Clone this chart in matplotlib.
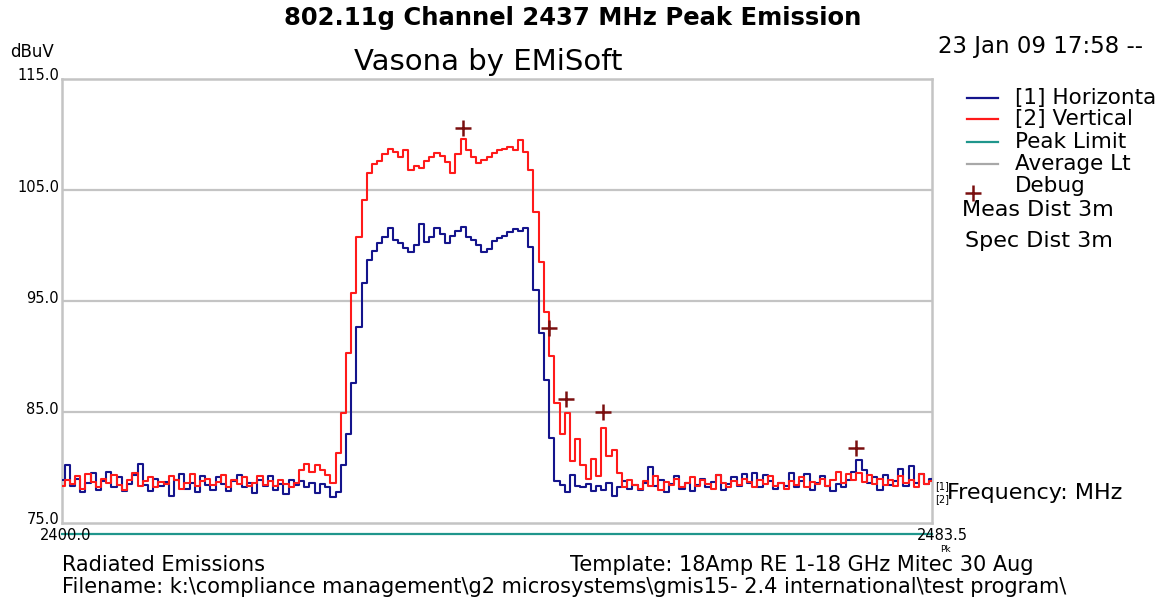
import matplotlib
matplotlib.use("Agg")
import matplotlib.pyplot as plt
import numpy as np

# sweep 2400.0 - 2483.5 MHz, 0.5 MHz per point
f_start = 2400.0
f_stop = 2483.5

# [2] Vertical trace, dBuV
vert = [78.3, 78.9, 78.5, 79.2, 78.1, 79.4, 78.7, 78.2, 79.0, 78.6,
        79.3, 78.4, 78.0, 78.9, 79.5, 78.3, 78.8, 79.1, 78.2, 78.7,
        78.5, 79.2, 78.9, 78.1, 78.6, 79.4, 78.3, 78.8, 79.0, 78.4,
        78.7, 79.3, 78.2, 78.9, 78.5, 79.1, 78.3, 78.6, 79.2, 78.4,
        78.8, 78.3, 78.9, 78.5, 78.2, 78.6, 79.8, 80.3, 79.6, 80.2,
        79.8, 79.3, 78.6, 81.3, 84.9, 90.3, 95.7, 100.8, 104.1, 106.5,
        107.3, 107.6, 108.2, 108.7, 108.4, 108.0, 108.6, 106.8, 107.2, 107.0,
        107.6, 108.0, 108.3, 108.1, 107.5, 106.5, 108.2, 109.6, 108.6, 108.0,
        107.4, 107.7, 108.0, 108.3, 108.6, 108.7, 108.9, 108.6, 109.5, 108.4,
        106.8, 103.0, 98.5, 94.0, 90.0, 85.8, 83.0, 84.9, 80.6, 82.6,
        80.2, 79.0, 80.8, 79.2, 83.6, 81.0, 81.6, 79.5, 78.2, 78.9,
        78.4, 78.1, 78.8, 78.3, 79.2, 78.0, 78.7, 78.4, 79.0, 78.2,
        78.6, 79.1, 78.3, 78.9, 78.5, 78.1, 79.3, 78.6, 78.2, 78.8,
        78.4, 79.0, 78.7, 78.2, 78.9, 78.5, 79.2, 78.3, 78.6, 78.1,
        78.8, 78.4, 79.1, 78.2, 78.7, 78.5, 79.0, 78.3, 78.9, 79.6,
        78.6, 79.4, 78.9, 79.5, 78.7, 79.3, 78.5, 79.0, 78.4, 78.9,
        78.3, 79.2, 78.6, 78.9, 78.2, 79.4, 78.5, 78.8]

# [1] Horizontal trace, dBuV
horiz = [78.9, 80.2, 78.3, 79.0, 77.8, 78.6, 79.5, 78.0, 78.8, 79.6,
         78.2, 79.1, 77.9, 78.5, 79.3, 80.3, 78.4, 77.9, 79.0, 78.3,
         78.7, 77.4, 78.9, 79.4, 78.1, 78.6, 77.8, 79.2, 78.4, 78.0,
         79.1, 78.5, 77.9, 78.8, 79.3, 78.2, 78.6, 77.7, 78.9, 78.3,
         79.2, 78.0, 78.5, 77.6, 78.9, 78.4, 78.8, 78.2, 78.6, 77.7,
         78.5, 78.2, 77.3, 77.8, 80.2, 83.0, 87.6, 92.7, 96.6, 98.7,
         99.5, 100.2, 100.8, 101.6, 100.5, 100.2, 99.8, 99.4, 100.0, 101.9,
         100.3, 100.8, 101.6, 101.0, 100.2, 100.9, 101.3, 101.7, 100.8, 100.5,
         100.0, 99.4, 99.7, 100.4, 100.7, 100.9, 101.2, 101.5, 101.3, 101.6,
         99.9, 96.0, 92.1, 87.9, 82.7, 78.8, 78.4, 77.8, 79.3, 78.3,
         78.2, 78.5, 77.9, 78.3, 78.0, 78.6, 77.4, 78.2, 78.8, 78.1,
         78.4, 78.0, 78.6, 80.0, 78.3, 78.9, 77.8, 78.5, 79.2, 78.1,
         78.6, 77.9, 78.4, 79.0, 78.2, 78.7, 79.3, 78.0, 78.5, 79.1,
         78.3, 79.4, 78.6, 79.5, 78.2, 79.3, 78.8, 78.1, 78.6, 78.3,
         79.5, 78.2, 78.8, 79.4, 78.0, 78.6, 79.2, 78.3, 77.9, 78.5,
         78.2, 78.9, 79.6, 80.7, 79.8, 78.6, 79.1, 78.0, 79.3, 78.4,
         78.8, 79.9, 78.3, 80.1, 78.6, 79.4, 78.5, 79.0]

peak_limit = 74.0
debug_freq = [2438.5, 2446.7, 2448.4, 2451.9, 2476.2]
debug_level = [110.6, 92.6, 86.2, 85.0, 81.8]

y_ticks = [115.0, 105.0, 95.0, 85.0, 75.0]

legend_names = ["[1] Horizonta", "[2] Vertical", "Peak Limit", "Average Lt", "Debug"]

BLUE = "#14148c"
RED = "#ff1a1a"
TEAL = "#1f968c"
GREY = "#a8a8a8"
DEBUG = "#7a0f0f"

W, H = 1159, 606
fig = plt.figure(figsize=(W / 100, H / 100), dpi=100)


def px(x, y):
    return x / W, 1 - y / H


def label(x, y, s, size=12.5, ha="left", va="center", **kw):
    kw.setdefault("family", "DejaVu Sans")
    fig.text(*px(x, y), s, fontsize=size, ha=ha, va=va, **kw)


ax = fig.add_axes([62 / W, 1 - 523 / H, 870 / W, 444 / H])
freq = np.linspace(f_start, f_stop, len(vert))

ax.plot(freq, horiz, color=BLUE, lw=1.5, drawstyle="steps-mid", zorder=3)
ax.plot(freq, vert, color=RED, lw=1.5, drawstyle="steps-mid", zorder=4)
ax.plot([f_start, f_stop], [peak_limit, peak_limit], color=TEAL, lw=1.6,
        clip_on=False, zorder=5)
ax.plot(debug_freq, debug_level, ls="none", marker="+", ms=11, mew=1.8,
        color=DEBUG, clip_on=False, zorder=6)

ax.set_xlim(f_start, f_stop)
ax.set_ylim(75, 115)
ax.set_xticks([])
ax.set_yticks([])
for yv in y_ticks[1:-1]:
    ax.axhline(yv, color="#c4c4c4", lw=1.6, zorder=1)
for sp in ax.spines.values():
    sp.set_color("#c4c4c4")
    sp.set_linewidth(1.8)

# y labels sit just left of the frame
for yv in y_ticks:
    ypix = 523 - (yv - 75) * 444 / 40
    label(59, ypix - 3, "%.1f" % yv, size=10.5, ha="right")
label(40, 536, "2400.0", size=10.5)
label(917, 536, "2483.5", size=10.5)
label(940, 549, "Pk", size=6.5)

label(573, 18, "802.11g Channel 2437 MHz Peak Emission", size=17.5,
      ha="center", weight="bold", family="DejaVu Sans")
label(488, 62, "Vasona by EMiSoft", size=21, ha="center")
label(10, 52, "dBuV", size=12)
label(938, 47, "23 Jan 09 17:58 --", size=16.5)

# legend block on the right
legend_y = [98, 119, 142, 164, 186]
legend_col = [BLUE, RED, TEAL, GREY]
for name, yy in zip(legend_names, legend_y):
    label(1015, yy, name, size=15.5)
for col, yy in zip(legend_col, legend_y):
    fig.add_artist(plt.Line2D([967 / W, 998 / W], [1 - yy / H, 1 - yy / H],
                              color=col, lw=1.6))
fig.add_artist(plt.Line2D([973 / W], [1 - 193 / H], marker="+", ms=11,
                          mew=1.8, color=DEBUG))
label(962, 210, "Meas Dist 3m", size=16)
label(965, 241, "Spec Dist 3m", size=16)

label(947, 493, "Frequency: MHz", size=16)
label(935, 486, "[1]", size=7)
label(935, 499, "[2]", size=7)

label(62, 565, "Radiated Emissions", size=15)
label(570, 565, "Template: 18Amp RE 1-18 GHz Mitec 30 Aug", size=15)
label(62, 587, "Filename: k:\\compliance management\\g2 microsystems\\gmis15- 2.4 "
      "international\\test program\\", size=15)

fig.savefig("out.png", dpi=100)
